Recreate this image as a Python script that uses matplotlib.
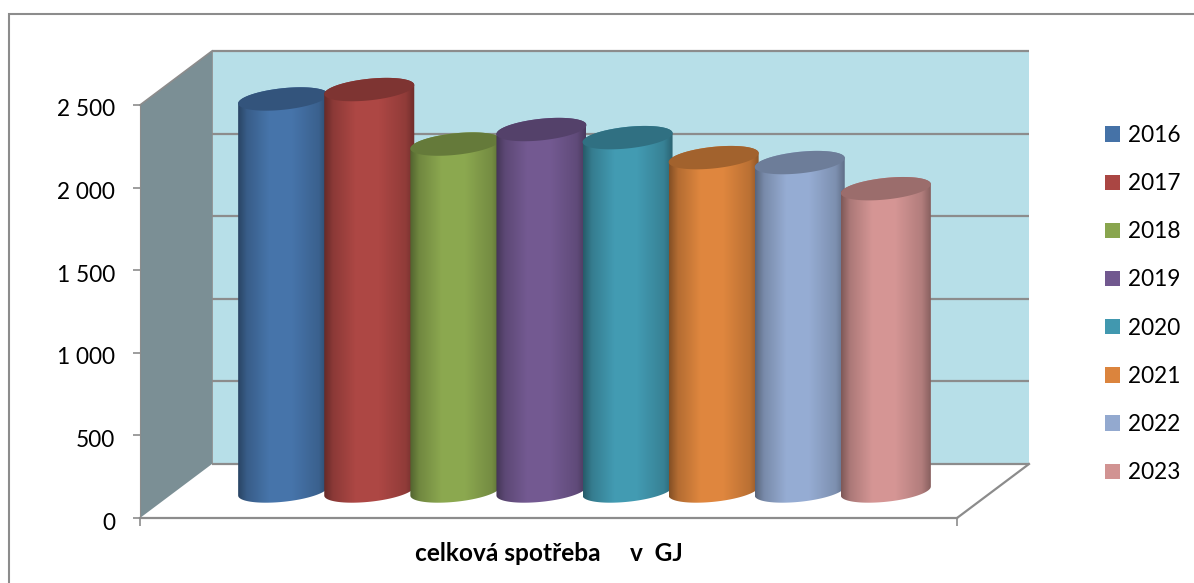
import numpy as np
from matplotlib import pyplot as plt
from matplotlib.colors import to_rgb
from matplotlib.patches import Polygon, Rectangle
from matplotlib.transforms import Affine2D

plt.rcParams['font.family'] = ['Lato', 'DejaVu Sans']

# chart data
years = ['2016', '2017', '2018', '2019', '2020', '2021', '2022', '2023']
values = [2373, 2430, 2100, 2188, 2139, 2018, 1988, 1830]
y_ticks = [0, 500, 1000, 1500, 2000, 2500]
y_labels = ['0', '500', '1 000', '1 500', '2 000', '2 500']
colors = ['#4572A7', '#AA4643', '#89A54E', '#71588F',
          '#4198AF', '#DB843D', '#93A9CF', '#D19392']
x_title = 'celková spotřeba     v  GJ'

W, H = 1194, 583
LINE = '#8c8c8c'
fig = plt.figure(figsize=(W / 100, H / 100), dpi=100)

# outer frame of the chart
fig.add_artist(Rectangle((9 / W, -0.02), 1.1, (H - 14) / H + 0.02,
                         transform=fig.transFigure, fc='white', ec=LINE, lw=1.5, zorder=-1))

ax = fig.add_axes([140 / W, (H - 518) / H, 817 / W, 413 / H])
ax.patch.set_visible(False)

# one category step is 86.1 px, 2500 units is 413 px
step = 86.1
xmin = 3.5 - 817 / step / 2
xmax = 3.5 + 817 / step / 2
ymax = 2500
px_x = 1 / step
px_y = ymax / 413.0
DX = 72 * px_x
DY = 54 * px_y

# side wall and back wall
ax.add_patch(Polygon([(xmin, 0), (xmin, ymax), (xmin + DX, ymax + DY), (xmin + DX, DY)],
                     fc='#7b8f95', ec='none', clip_on=False, zorder=1))
ax.add_patch(Polygon([(xmin + DX, DY), (xmin + DX, ymax + DY), (xmax + DX, ymax + DY), (xmax + DX, DY)],
                     fc='#b7dfe8', ec='none', clip_on=False, zorder=1))
for t in y_ticks:
    ax.plot([xmin + DX, xmax + DX], [t + DY, t + DY], color=LINE, lw=1.6,
            clip_on=False, zorder=2, solid_capstyle='butt')
ax.plot([xmax, xmax + DX], [0, DY], color=LINE, lw=1.6, clip_on=False, zorder=2)
ax.plot([xmin, xmin + DX], [ymax, ymax + DY], color=LINE, lw=1.2, clip_on=False, zorder=2)
ax.plot([xmin + DX, xmin + DX], [DY, ymax + DY], color=LINE, lw=0.6, clip_on=False, zorder=2)

# cylinders stand half way into the depth
t_low = np.linspace(np.pi, 2 * np.pi, 60)
t_up = np.linspace(0, np.pi, 60)
t_all = np.linspace(0, 2 * np.pi, 120)
rx = 45 * px_x
tilt = 4.5 * px_y
ry = 10.8 * px_y


def rim(cx, cy, t):
    return np.column_stack([cx + rx * np.cos(t), cy + tilt * np.cos(t) + ry * np.sin(t)])


shade_x = [0.0, 0.10, 0.35, 0.60, 0.90, 1.0]
shade_k = [0.60, 0.82, 1.02, 1.02, 0.85, 0.65]
shade = np.interp(np.linspace(0, 1, 200), shade_x, shade_k)

for i, (val, col) in enumerate(zip(values, colors)):
    cx = i + DX / 2
    base = DY / 2
    top = val + DY / 2
    z = 3 + i
    rgb = np.array(to_rgb(col))
    body = Polygon(np.vstack([rim(cx, base, t_low), rim(cx, top, t_up)]),
                   fc='none', ec='none', transform=ax.transData)
    ax.add_patch(body)
    grad = np.clip(shade[None, :, None] * rgb[None, None, :], 0, 1)
    im = ax.imshow(grad, extent=[cx - rx, cx + rx, 0, ymax + DY], aspect='auto',
                   zorder=z, interpolation='bilinear')
    # image would stop at the axes box otherwise
    im.set_clip_box(fig.bbox)
    im.set_clip_path(body)
    ax.add_patch(Polygon(rim(cx, top, t_all), fc=rgb * 0.74, ec='none',
                         clip_on=False, zorder=z + 0.5))

ax.set_xlim(xmin, xmax)
ax.set_ylim(0, ymax)

# axes
for name in ['top', 'right']:
    ax.spines[name].set_visible(False)
ax.spines['left'].set_color(LINE)
ax.spines['left'].set_linewidth(0.8)
ax.spines['bottom'].set_color(LINE)
ax.spines['bottom'].set_linewidth(1.6)
ax.set_yticks(y_ticks)
ax.set_yticklabels(y_labels, fontsize=16.3, color='black')
ax.tick_params(axis='y', length=5, width=1.2, color=LINE, pad=13)
# labels sit a little under their ticks
for label in ax.get_yticklabels():
    label.set_transform(label.get_transform() + Affine2D().translate(0, -3))
ax.set_xticks([xmin, xmax])
ax.set_xticklabels(['', ''])
ax.tick_params(axis='x', length=6, width=1.2, color=LINE)
ax.set_xlabel(x_title, fontsize=17.6, fontweight='bold', labelpad=8, x=0.5)

# legend
handles = [Rectangle((0, 0), 1, 1, fc=c, ec='none') for c in colors]
fig.legend(handles, years, loc='upper left', bbox_to_anchor=(1105 / W, (H - 125) / H),
           frameon=False, fontsize=16.3, handlelength=0.66, handleheight=0.66,
           handletextpad=0.35, labelspacing=1.2, borderpad=0, borderaxespad=0)

fig.savefig('out.png', dpi=100)
